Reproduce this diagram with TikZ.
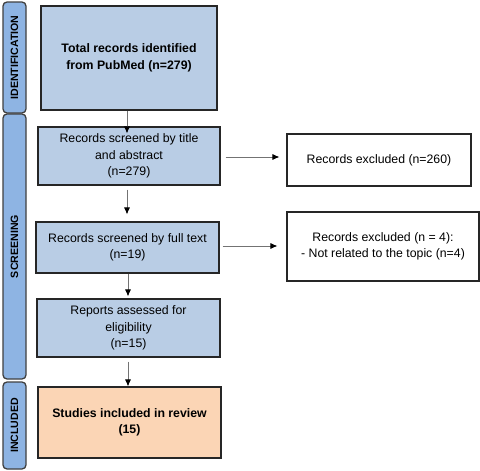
\documentclass[tikz,border=0pt]{standalone}
\usepackage{fontspec}
\setmainfont{Liberation Sans}
\usetikzlibrary{arrows.meta}
\definecolor{boxblue}{HTML}{B9CDE5}
\definecolor{barblue}{HTML}{8EB4E3}
\definecolor{boxorange}{HTML}{FBD5B5}
\begin{document}
\begin{tikzpicture}[x=1pt,y=-1pt,
	every path/.style={>={Latex[length=7pt,width=6pt,color=black]}},
	stage/.style={draw=black!85,line width=1.1pt,fill=boxblue,align=center,inner sep=0pt,font=\fontsize{12.3}{16.5}\selectfont},
	excl/.style={draw=black!85,line width=1.1pt,fill=white,align=center,inner sep=0pt,font=\fontsize{12.3}{16.5}\selectfont},
	phase/.style={draw=black!75,line width=1.3pt,fill=barblue,rounded corners=4pt,rotate=90,inner sep=0pt,minimum height=23pt,font=\fontsize{10.6}{12}\selectfont\bfseries},
	flow/.style={->,draw=black!55,line width=0.8pt}]
	\useasboundingbox (0,0) rectangle (480,471);
	\node[phase,minimum width=111pt] (identification) at (14.5,57.5) {IDENTIFICATION};
	\node[phase,minimum width=265pt] (screening) at (14.5,246.5) {SCREENING};
	\node[phase,minimum width=87pt] (included) at (14.5,425.5) {INCLUDED};
	
	\node[stage,font=\fontsize{12.3}{16.5}\selectfont\bfseries,minimum width=176pt,minimum height=104pt] (identified) at (129,58) {Total records identified\\from PubMed (n=279)};
	\node[stage,minimum width=182pt,minimum height=58pt] (title-abstract) at (129,156) {Records screened by title\\and abstract\\(n=279)};
	\node[stage,minimum width=183pt,minimum height=51pt] (full-text) at (127.5,247.5) {Records screened by full text\\(n=19)};
	\node[stage,minimum width=183pt,minimum height=58pt] (eligibility) at (128.5,328) {Reports assessed for\\eligibility\\(n=15)};
	\node[stage,fill=boxorange,font=\fontsize{12.3}{16.5}\selectfont\bfseries,minimum width=183pt,minimum height=71pt] (included-studies) at (129.5,422.5) {Studies included in review\\(15)};
	\node[excl,minimum width=184pt,minimum height=52pt] (excluded-1) at (379,160) {Records excluded (n=260)};
	\node[excl,minimum width=192pt,minimum height=69pt] (excluded-2) at (383,246.5) {Records excluded (n = 4):\\- Not related to the topic (n=4)};
	
	\draw[flow,shorten >=-7pt] (identified.south -| 127,0) -- (title-abstract.north -| 127,0);
	\draw[flow,shorten <=4pt,shorten >=7pt] (title-abstract.south -| 127,0) -- (full-text.north -| 127,0);
	\draw[flow,shorten >=2pt] (full-text.south -| 128,0) -- (eligibility.north -| 128,0);
	\draw[flow,shorten <=4pt] (eligibility.south -| 128,0) -- (included-studies.north -| 128,0);
	\draw[flow,shorten <=5pt,shorten >=7pt] (title-abstract.east |- 0,157) -- (excluded-1.west |- 0,157);
	\draw[flow,shorten <=3pt,shorten >=9pt] (full-text.east |- 0,246) -- (excluded-2.west |- 0,246);
\end{tikzpicture}
\end{document}
